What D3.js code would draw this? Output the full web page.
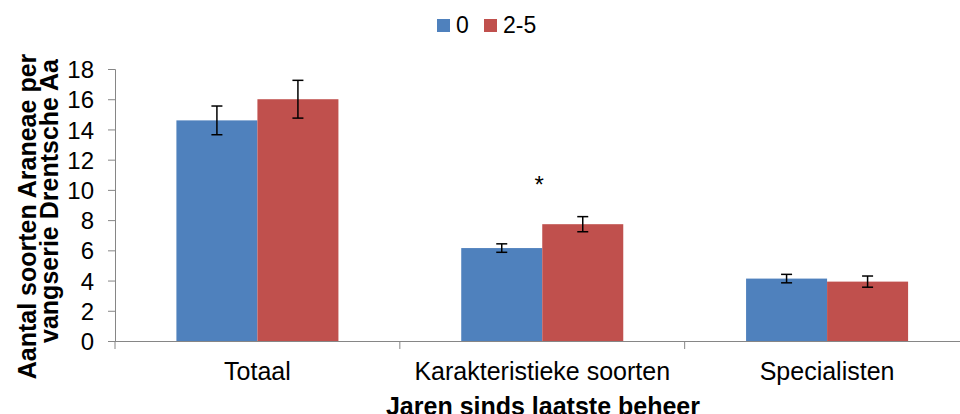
<!DOCTYPE html>
<html>
<head>
<meta charset="utf-8">
<script src="https://cdn.jsdelivr.net/npm/d3@7"></script>
<style>
  html, body { margin: 0; padding: 0; background: #fff; }
  svg { display: block; }
  text { font-family: "Liberation Sans", Arial, sans-serif; fill: #000; }
</style>
</head>
<body>
<svg id="chart" width="960" height="414"></svg>
<script>
const categories = ["Totaal", "Karakteristieke soorten", "Specialisten"];
const seriesNames = ["0", "2-5"];
const values0 = [14.6, 6.15, 4.13];
const values25 = [16.0, 7.73, 3.93];
const err0 = [0.95, 0.28, 0.28];
const err25 = [1.25, 0.5, 0.37];
const yTicks = [0, 2, 4, 6, 8, 10, 12, 14, 16, 18];
const significance = ["", "*", ""];
const colors = ["#4F81BD", "#C0504D"];

(function () {
const svg = d3.select("#chart");
const mLeft = 115, mRight = 969.5, mTop = 69, mBottom = 341;

const x0 = d3.scaleBand().domain(categories).range([mLeft, mRight]).padding(0);
const x1 = d3.scaleBand().domain(seriesNames).range([0, x0.bandwidth()]).paddingInner(0).paddingOuter(0.758);
const y = d3.scaleLinear().domain([0, 18]).range([mBottom, mTop]);

const axisColor = "#868686";

const data = categories.map((c, i) => ({
  cat: c,
  vals: [
    { s: seriesNames[0], v: values0[i], e: err0[i], col: colors[0] },
    { s: seriesNames[1], v: values25[i], e: err25[i], col: colors[1] }
  ],
  sig: significance[i]
}));

const g = svg.append("g");
const groups = g.selectAll("g.grp").data(data).enter().append("g")
  .attr("transform", d => `translate(${x0(d.cat)},0)`);

groups.selectAll("rect").data(d => d.vals).enter().append("rect")
  .attr("x", d => x1(d.s))
  .attr("y", d => y(d.v))
  .attr("width", x1.bandwidth())
  .attr("height", d => y(0) - y(d.v))
  .attr("fill", d => d.col);

const eb = groups.selectAll("g.eb").data(d => d.vals).enter().append("g")
  .attr("stroke", "#000").attr("stroke-width", 1.5);
const cx = d => x1(d.s) + x1.bandwidth() / 2;
eb.append("line")
  .attr("x1", cx).attr("x2", cx)
  .attr("y1", d => y(d.v + d.e))
  .attr("y2", d => y(d.v - d.e));
eb.append("line")
  .attr("x1", d => cx(d) - 5.5).attr("x2", d => cx(d) + 5.5)
  .attr("y1", d => y(d.v + d.e)).attr("y2", d => y(d.v + d.e));
eb.append("line")
  .attr("x1", d => cx(d) - 5.5).attr("x2", d => cx(d) + 5.5)
  .attr("y1", d => y(d.v - d.e)).attr("y2", d => y(d.v - d.e));

groups.filter(d => d.sig).append("text")
  .attr("x", x0.bandwidth() / 2 - 3)
  .attr("y", d => y(d3.max(d.vals, v => v.v + v.e)) - 24)
  .attr("text-anchor", "middle")
  .style("font-size", "24px")
  .text(d => d.sig);

const yAxis = d3.axisLeft(y).tickValues(yTicks).tickSize(7).tickPadding(14).tickFormat(d3.format("d"));
const ya = svg.append("g").attr("transform", `translate(${mLeft},0)`).call(yAxis);
ya.attr("font-family", null).attr("font-size", null);
ya.select(".domain").attr("stroke", axisColor);
ya.selectAll(".tick line").attr("stroke", axisColor);
ya.selectAll(".tick text").style("font-size", "24px").attr("dy", "0.36em");

const xAxis = d3.axisBottom(x0).tickSize(0).tickPadding(0);
const xa = svg.append("g").attr("transform", `translate(0,${mBottom})`).call(xAxis);
xa.attr("font-family", null).attr("font-size", null);
xa.select(".domain").attr("stroke", axisColor).attr("d", `M${mLeft},0.5H${mRight}`);
xa.selectAll(".tick text").style("font-size", "25px").attr("y", 39).attr("dy", 0);
const bounds = categories.map(c => x0(c)).concat([x0(categories[categories.length - 1]) + x0.bandwidth()]);
xa.selectAll("line.bound").data(bounds).enter().append("line")
  .attr("class", "bound")
  .attr("x1", d => d).attr("x2", d => d)
  .attr("y1", 0).attr("y2", 8)
  .attr("stroke", axisColor);

svg.append("text")
  .attr("x", 543)
  .attr("y", 415)
  .attr("text-anchor", "middle")
  .style("font-size", "25px").style("font-weight", "bold")
  .text("Jaren sinds laatste beheer");

svg.append("text")
  .attr("transform", "translate(35.5,216.5) rotate(-90)")
  .attr("text-anchor", "middle")
  .style("font-size", "25px").style("font-weight", "bold")
  .text("Aantal soorten Araneae per");
svg.append("text")
  .attr("transform", "translate(58,201) rotate(-90)")
  .attr("text-anchor", "middle")
  .style("font-size", "25px").style("font-weight", "bold")
  .text("vangserie Drentsche Aa");

const legendPos = [437, 484];
const lg = svg.append("g").selectAll("g").data(seriesNames).enter().append("g")
  .attr("transform", (d, i) => `translate(${legendPos[i]},19)`);
lg.append("rect").attr("width", 13).attr("height", 13).attr("fill", (d, i) => colors[i]);
lg.append("text").attr("x", 19).attr("y", 14)
  .style("font-size", "23px").text(d => d);
})();
</script>
</body>
</html>
